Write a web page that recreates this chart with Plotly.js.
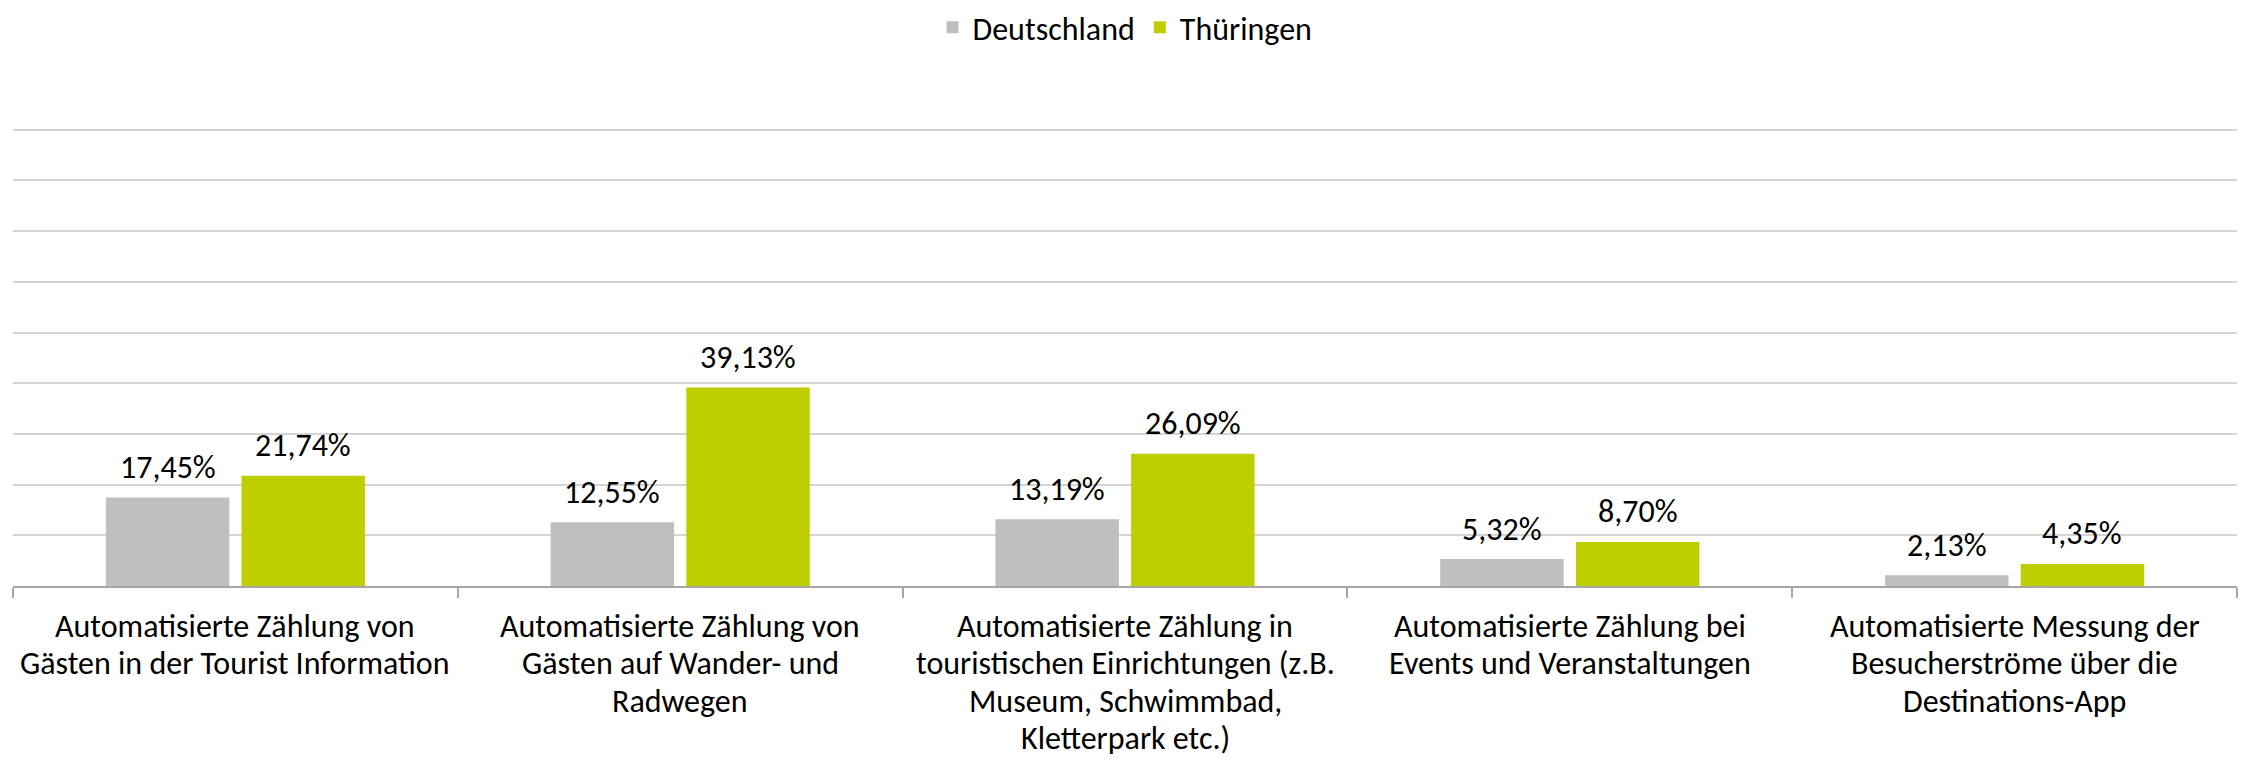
<!DOCTYPE html>
<html>
<head>
<meta charset="utf-8">
<script src="https://cdn.plot.ly/plotly-3.0.1.min.js"></script>
<style>html,body{margin:0;padding:0;background:#fff;}#chart{width:2241px;height:758px;}</style>
</head>
<body>
<div id="chart"></div>
<script>
const categories = [
  "Automatisierte Zählung von<br>Gästen in der Tourist Information",
  "Automatisierte Zählung von<br>Gästen auf Wander- und<br>Radwegen",
  "Automatisierte Zählung in<br>touristischen Einrichtungen (z.B.<br>Museum, Schwimmbad,<br>Kletterpark etc.)",
  "Automatisierte Zählung bei<br>Events und Veranstaltungen",
  "Automatisierte Messung der<br>Besucherströme über die<br>Destinations-App"
];
const deutschland = [17.45, 12.55, 13.19, 5.32, 2.13];
const thueringen = [21.74, 39.13, 26.09, 8.70, 4.35];
const seriesNames = ["Deutschland", "Thüringen"];
const yTicks = [0, 10, 20, 30, 40, 50, 60, 70, 80, 90, 100];

const FONT = "Carlito, Calibri, Lato, sans-serif";
const FS = 32;
const W = 2241, H = 758;
const M = {l: 13, r: 4, t: 79, b: 172};
const BARGAP = 0.39;

const catWidth = (W - M.l - M.r) / categories.length;
const barOffset = catWidth * (1 - BARGAP) / 4;

const fmt = v => v.toFixed(2).replace(".", ",") + "%";

const annotations = [];
// value labels above bars
[deutschland, thueringen].forEach((series, s) => {
  series.forEach((v, i) => {
    annotations.push({
      x: categories[i], y: v, xref: "x", yref: "y",
      text: fmt(v), showarrow: false,
      xanchor: "center", yanchor: "middle",
      xshift: (s === 0 ? -1 : 1) * barOffset, yshift: 30,
      font: {family: FONT, size: FS, color: "#000"}
    });
  });
});
// category labels below the axis (one text per line for Calibri-like line spacing)
categories.forEach((c) => {
  c.split("<br>").forEach((line, k) => {
    annotations.push({
      x: c, y: 0, xref: "x", yref: "y",
      text: line, showarrow: false,
      xanchor: "center", yanchor: "middle",
      yshift: -(40 + 37.5 * k),
      font: {family: FONT, size: FS, color: "#000"}
    });
  });
});

const traces = [
  {type: "bar", name: seriesNames[0], x: categories, y: deutschland,
   marker: {color: "#bfbfbf"}, hoverinfo: "none"},
  {type: "bar", name: seriesNames[1], x: categories, y: thueringen,
   marker: {color: "#bfce00"}, hoverinfo: "none"}
];

const layout = {
  width: W, height: H,
  margin: M,
  paper_bgcolor: "#fff", plot_bgcolor: "#fff",
  separators: ",.",
  barmode: "group", bargap: BARGAP, bargroupgap: 0.09,
  font: {family: FONT, size: FS, color: "#000"},
  showlegend: true,
  legend: {orientation: "h", x: 0.5, xanchor: "center", y: 1, yref: "container", yanchor: "top",
           font: {family: FONT, size: FS, color: "#000"}, traceorder: "normal"},
  annotations: annotations,
  xaxis: {type: "category", showline: true, linecolor: "#a6a6a6", linewidth: 2,
          ticks: "outside", tickson: "boundaries", ticklen: 10, tickcolor: "#a6a6a6", tickwidth: 2,
          showticklabels: false, tickangle: 0,
          showgrid: false, automargin: false},
  yaxis: {range: [0, 100], tickvals: yTicks, showticklabels: false, showgrid: true,
          gridcolor: "#d4d4d4", gridwidth: 2, zeroline: false, showline: false, fixedrange: true}
};

Plotly.newPlot("chart", traces, layout, {displayModeBar: false, staticPlot: true});
</script>
</body>
</html>
